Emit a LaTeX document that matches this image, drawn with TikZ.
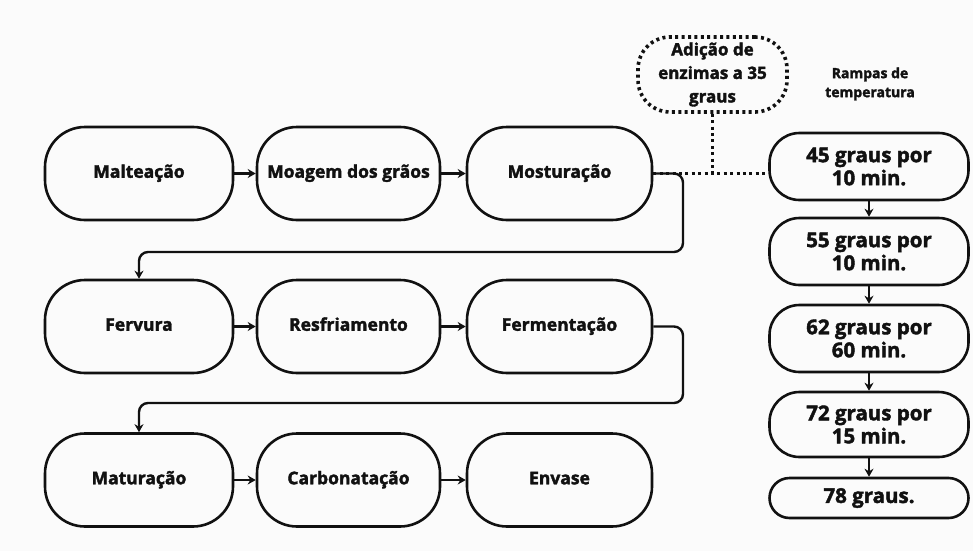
\documentclass[tikz,border=0pt]{standalone}
\usepackage{fontspec}
\setmainfont{Open Sans}[BoldFeatures={FakeBold=2}]
\usetikzlibrary{arrows.meta}
\definecolor{bgc}{HTML}{FBFBFB}
\definecolor{ink}{HTML}{111111}
\begin{document}
\begin{tikzpicture}[x=1pt,y=-1pt,
  stepbox/.style={draw=ink, text=ink, line width=2.6pt, rounded corners=40pt, minimum height=93pt, inner sep=0pt, align=center, text height=12.5pt, text depth=4pt, font=\fontsize{17.5}{21}\selectfont\bfseries},
  rampbox/.style={draw=ink, text=ink, line width=2.6pt, rounded corners=30pt, minimum width=199pt, minimum height=67pt, inner sep=0pt, align=center, font=\fontsize{20.5}{23}\selectfont\bfseries},
  conn/.style={draw=ink, line width=2.4pt, -{Stealth[length=8pt,width=9pt]}},
  dotline/.style={draw=ink, line width=3.6pt, dash pattern=on 3pt off 3.4pt, line cap=butt}
]
\useasboundingbox (0,0) rectangle (973,551);
\fill[bgc] (0,0) rectangle (973,551);

% row 1
\node[stepbox, minimum width=188pt] (mal) at (139,173.5) {Malteação};
\node[stepbox, minimum width=183pt] (moa) at (348.5,173.5) {Moagem dos grãos};
\node[stepbox, minimum width=185pt] (mos) at (559.5,173.5) {Mosturação};
% row 2
\node[stepbox, minimum width=188pt] (fer) at (139,326.5) {Fervura};
\node[stepbox, minimum width=183pt] (res) at (348.5,326.5) {Resfriamento};
\node[stepbox, minimum width=185pt] (fmt) at (559.5,326.5) {Fermentação};
% row 3
\node[stepbox, minimum width=188pt] (mat) at (139,480) {Maturação};
\node[stepbox, minimum width=183pt] (car) at (348.5,480) {Carbonatação};
\node[stepbox, minimum width=185pt] (env) at (559.5,480) {Envase};

% right column
\node[rampbox] (r45) at (869,166.5) {45 graus por\\10 min.};
\node[rampbox] (r55) at (869,251.5) {55 graus por\\10 min.};
\node[rampbox] (r62) at (869,338.5) {62 graus por\\60 min.};
\node[rampbox, minimum height=65pt] (r72) at (869,424.5) {72 graus por\\15 min.};
\node[rampbox, minimum height=40pt, rounded corners=20pt] (r78) at (869,498) {78 graus.};

\node[text=ink, align=center, font=\fontsize{14}{19}\selectfont\bfseries] (rampas) at (870,84) {Rampas de\\temperatura};

\node[dotline, text=ink, rounded corners=32pt, minimum width=149pt, minimum height=75pt, inner sep=0pt, align=center, font=\fontsize{17}{23.5}\selectfont\bfseries] (adi) at (712.5,74.5) {Adição de\\enzimas a 35\\graus};

% arrows in rows
\draw[conn] (mal) -- (moa);
\draw[conn] (moa) -- (mos);
\draw[conn] (fer) -- (res);
\draw[conn] (res) -- (fmt);
\draw[conn] (mat) -- (car);
\draw[conn] (car) -- (env);

% wrap connectors
\coordinate (w1) at (683,252);
\coordinate (w2) at (683,403);
\draw[conn, rounded corners=9pt] (mos.east) -| (w1) -| (fer.north);
\draw[conn, rounded corners=9pt] (fmt.east) -| (w2) -| (mat.north);

% dotted links
\coordinate (j) at (adi.south |- mos.east);
\coordinate (k) at (r45.west |- mos.east);
\draw[dotline] (mos.east) -- (k);
\draw[dotline] (adi.south) -- (j);

% ramp arrows
\draw[conn] (r45) -- (r55);
\draw[conn] (r55) -- (r62);
\draw[conn] (r62) -- (r72);
\draw[conn] (r72) -- (r78);
\end{tikzpicture}
\end{document}
